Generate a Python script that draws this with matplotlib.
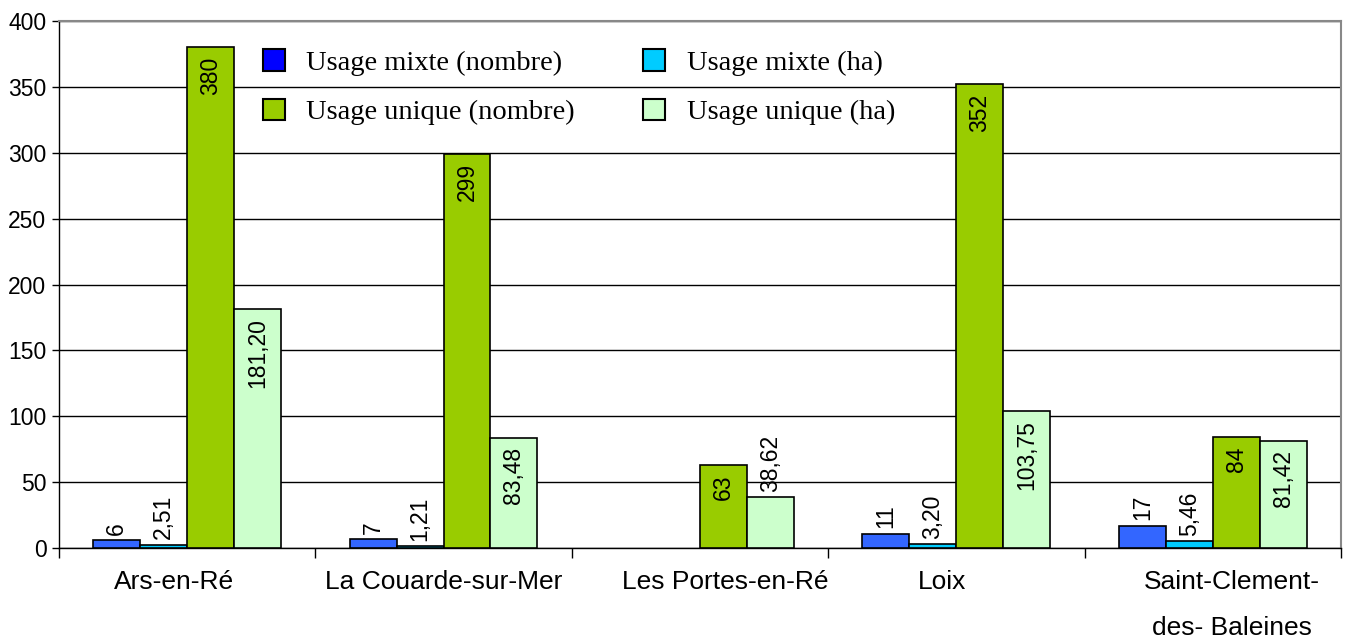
import numpy as np
import matplotlib.pyplot as plt
from matplotlib.patches import Patch

# communes and surfaces
communes = ['Ars-en-Ré', 'La Couarde-sur-Mer', 'Les Portes-en-Ré', 'Loix',
            'Saint-Clement-\ndes- Baleines']
mixte_nb = [6, 7, np.nan, 11, 17]
mixte_ha = [2.51, 1.21, np.nan, 3.20, 5.46]
unique_nb = [380, 299, 63, 352, 84]
unique_ha = [181.20, 83.48, 38.62, 103.75, 81.42]

series_names = ['Usage mixte (nombre)', 'Usage mixte (ha)',
                'Usage unique (nombre)', 'Usage unique (ha)']

fig = plt.figure(figsize=(13.49, 6.38), dpi=100)
ax = fig.add_axes([0.0437, 0.141, 0.9503, 0.826])

x = np.arange(len(communes))
w = 0.183
colors = ['#3366FF', '#00CCFF', '#99CC00', '#CCFFCC']
series = [(mixte_nb, 0), (mixte_ha, 2), (unique_nb, 0), (unique_ha, 2)]

for i, (vals, dec) in enumerate(series):
    pos = x + (i - 1.5) * w
    ax.bar(pos, vals, width=w, color=colors[i], edgecolor='black',
           linewidth=1.2, zorder=3)
    for xp, v in zip(pos, vals):
        if np.isnan(v):
            continue
        txt = f'{v:.{dec}f}'.replace('.', ',')
        if v >= 60:
            # label inside the top of the bar
            ax.text(xp, v - 7, txt, rotation=90, ha='center', va='top',
                    fontsize=16.5, family='Liberation Sans', zorder=4)
        else:
            ax.text(xp, v + 4, txt, rotation=90, ha='center', va='bottom',
                    fontsize=16.5, family='Liberation Sans', zorder=4)

ax.set_xlim(-0.5, len(communes) - 0.5)
ax.set_ylim(0, 400)
ax.set_yticks(np.arange(0, 401, 50))
ax.yaxis.grid(True, color='black', linewidth=1)
ax.set_axisbelow(True)

# ticks at the boundaries between communes
ax.set_xticks(np.arange(-0.5, len(communes), 1))
ax.set_xticklabels([])
ax.tick_params(axis='x', direction='out', length=7, width=1)
ax.tick_params(axis='y', direction='out', length=5, width=1,
               labelsize=16.5, pad=4)
for lab in ax.get_yticklabels():
    lab.set_family('Liberation Sans')

label_shift = [-0.05, 0.0, 0.10, -0.055, 0.075]
for xi, name, dx in zip(x, communes, label_shift):
    ax.text(xi + dx, -17, name, ha='center', va='top', fontsize=19,
            family='Liberation Sans', linespacing=2.12)

for s in ['top', 'right']:
    ax.spines[s].set_color('#888888')
    ax.spines[s].set_linewidth(1.5)
for s in ['left', 'bottom']:
    ax.spines[s].set_color('black')
    ax.spines[s].set_linewidth(1)

# legend filled row by row
handles = [Patch(facecolor=c, edgecolor='black', linewidth=1.5)
           for c in ['#0000FF', '#99CC00', '#00CCFF', '#CCFFCC']]
labels = [series_names[0], series_names[2], series_names[1], series_names[3]]
ax.legend(handles, labels, ncol=2, frameon=False, loc='upper left',
          bbox_to_anchor=(0.139, 0.995),
          prop={'family': 'Liberation Serif', 'size': 20.5},
          handlelength=0.78, handleheight=0.78, handletextpad=0.75,
          columnspacing=2.4, labelspacing=0.8)

fig.savefig('out.png', dpi=100)
